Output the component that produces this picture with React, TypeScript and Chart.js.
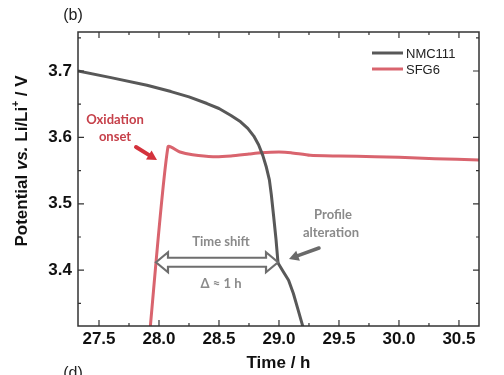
import React, { useEffect, useRef } from 'react';
import { Chart, registerables } from 'chart.js';
Chart.register(...registerables);

const nmcTime = [27.325, 27.6, 27.9, 28.1, 28.25, 28.4, 28.5, 28.6, 28.68, 28.74, 28.79, 28.83, 28.865, 28.895, 28.92, 28.936, 28.955, 28.975, 28.992, 29.04, 29.08, 29.12, 29.16, 29.215];
const nmcPotential = [3.7, 3.69, 3.6785, 3.669, 3.661, 3.651, 3.6435, 3.633, 3.6235, 3.6135, 3.602, 3.589, 3.573, 3.555, 3.536, 3.514, 3.482, 3.447, 3.411, 3.3966, 3.385, 3.365, 3.34, 3.305];
const sfgTime = [27.92, 28.075, 28.175, 28.28, 28.45, 28.6, 28.75, 28.85, 29.0, 29.1, 29.26, 29.5, 29.8, 30.0, 30.3, 30.667];
const sfgPotential = [3.3, 3.586, 3.578, 3.574, 3.571, 3.572, 3.575, 3.577, 3.578, 3.577, 3.573, 3.572, 3.571, 3.57, 3.568, 3.566];

const seriesNames = ['NMC111', 'SFG6'];
const seriesColors = ['#585858', '#d9646e'];

const xMajorTicks = [27.5, 28.0, 28.5, 29.0, 29.5, 30.0, 30.5];
const xMinorTicks = [27.75, 28.25, 28.75, 29.25, 29.75, 30.25];
const yMajorTicks = [3.4, 3.5, 3.6, 3.7];
const yMinorTicks = [3.35, 3.45, 3.55, 3.65, 3.75];

const X_MIN = 27.325, X_MAX = 30.667, Y_MIN = 3.316, Y_MAX = 3.7587;

function arrow(ctx: CanvasRenderingContext2D, x1: number, y1: number, x2: number, y2: number, color: string, lw: number, head: number) {
  const ang = Math.atan2(y2 - y1, x2 - x1);
  ctx.save();
  ctx.strokeStyle = color; ctx.fillStyle = color; ctx.lineWidth = lw; ctx.lineCap = 'round';
  const bx = x2 - Math.cos(ang) * head * 0.8, by = y2 - Math.sin(ang) * head * 0.8;
  ctx.beginPath(); ctx.moveTo(x1, y1); ctx.lineTo(bx, by); ctx.stroke();
  ctx.beginPath();
  ctx.moveTo(x2, y2);
  ctx.lineTo(x2 - Math.cos(ang - 0.5) * head, y2 - Math.sin(ang - 0.5) * head);
  ctx.lineTo(x2 - Math.cos(ang + 0.5) * head, y2 - Math.sin(ang + 0.5) * head);
  ctx.closePath(); ctx.fill();
  ctx.restore();
}

const decorPlugin = {
  id: 'decor',
  afterDatasetsDraw(chart: any) {
    const { ctx, chartArea: a, scales } = chart;
    const x = scales.x, y = scales.y;
    ctx.save();
    // frame
    ctx.strokeStyle = '#333'; ctx.lineWidth = 1.5;
    ctx.strokeRect(a.left, a.top, a.right - a.left, a.bottom - a.top);
    ctx.lineWidth = 1.2;
    const tick = (px: number, len: number, horiz: boolean) => {
      ctx.beginPath();
      if (horiz) {
        ctx.moveTo(px, a.bottom); ctx.lineTo(px, a.bottom - len);
        ctx.moveTo(px, a.top); ctx.lineTo(px, a.top + len);
      } else {
        ctx.moveTo(a.left, px); ctx.lineTo(a.left + len, px);
        ctx.moveTo(a.right, px); ctx.lineTo(a.right - len, px);
      }
      ctx.stroke();
    };
    xMajorTicks.forEach(v => tick(x.getPixelForValue(v), 6, true));
    xMinorTicks.forEach(v => tick(x.getPixelForValue(v), 3, true));
    yMajorTicks.forEach(v => tick(y.getPixelForValue(v), 6, false));
    yMinorTicks.forEach(v => tick(y.getPixelForValue(v), 3, false));

    // legend
    ctx.font = '13px "Liberation Sans", Arial, sans-serif';
    ctx.textBaseline = 'middle';
    chart.data.datasets.forEach((ds: any, i: number) => {
      const ly = 53 + i * 16;
      ctx.strokeStyle = ds.borderColor; ctx.lineWidth = 3;
      ctx.beginPath(); ctx.moveTo(372, ly); ctx.lineTo(403, ly); ctx.stroke();
      ctx.fillStyle = '#222'; ctx.textAlign = 'left';
      ctx.fillText(ds.label, 406, ly + 1);
    });

    // annotations
    ctx.font = 'bold 13px Lato, "Open Sans", sans-serif';
    ctx.textAlign = 'center';
    ctx.fillStyle = '#c6404a';
    ctx.fillText('Oxidation', 115, 120);
    ctx.fillText('onset', 115, 137);
    arrow(ctx, 136, 147, 157, 160, '#d4323c', 4, 11);

    ctx.fillStyle = '#8a8a8a';
    ctx.fillText('Time shift', 221, 242);
    ctx.fillText('Δ ≈ 1 h', 221, 284);
    ctx.fillText('Profile', 333, 215);
    ctx.fillText('alteration', 331, 233);
    arrow(ctx, 319, 248, 289, 259, '#6a6a6a', 3.5, 11);

    // double hollow arrow
    const lx = x.getPixelForValue(27.975), rx = x.getPixelForValue(28.992), cy = y.getPixelForValue(3.412);
    const hl = 12, hh = 10, sh = 4.5;
    ctx.beginPath();
    ctx.moveTo(lx, cy);
    ctx.lineTo(lx + hl, cy - hh); ctx.lineTo(lx + hl, cy - sh);
    ctx.lineTo(rx - hl, cy - sh); ctx.lineTo(rx - hl, cy - hh);
    ctx.lineTo(rx, cy);
    ctx.lineTo(rx - hl, cy + hh); ctx.lineTo(rx - hl, cy + sh);
    ctx.lineTo(lx + hl, cy + sh); ctx.lineTo(lx + hl, cy + hh);
    ctx.closePath();
    ctx.fillStyle = '#ffffff'; ctx.fill();
    ctx.strokeStyle = '#6e6e6e'; ctx.lineWidth = 2.2; ctx.lineJoin = 'miter'; ctx.stroke();

    ctx.restore();
  },
  afterDraw(chart: any) {
    const { ctx } = chart;
    ctx.save();
    // panel labels
    ctx.fillStyle = '#222';
    ctx.font = '16px "Liberation Sans", Arial, sans-serif';
    ctx.textAlign = 'center'; ctx.textBaseline = 'middle';
    ctx.fillText('(b)', 73, 16);
    ctx.textBaseline = 'top';
    ctx.fillText('(d)', 73, 366);
    // y title with italic "vs."
    const parts: [string, string, number][] = [
      ['Potential ', 'bold 17px "Liberation Sans", Arial, sans-serif', 0],
      ['vs.', 'italic bold 17px "Liberation Sans", Arial, sans-serif', 0],
      [' Li/Li', 'bold 17px "Liberation Sans", Arial, sans-serif', 0],
      ['+', 'bold 10px "Liberation Sans", Arial, sans-serif', -6],
      [' / V', 'bold 17px "Liberation Sans", Arial, sans-serif', 0],
    ];
    let total = 0;
    parts.forEach(p => { ctx.font = p[1]; total += ctx.measureText(p[0]).width; });
    ctx.translate(22, 161);
    ctx.rotate(-Math.PI / 2);
    ctx.textAlign = 'left'; ctx.textBaseline = 'middle';
    ctx.fillStyle = '#111';
    let cx = -total / 2;
    parts.forEach(p => { ctx.font = p[1]; ctx.fillText(p[0], cx, p[2]); cx += ctx.measureText(p[0]).width; });
    ctx.restore();
  },
};

export default function App() {
  const ref = useRef<HTMLCanvasElement>(null);
  useEffect(() => {
    const canvas = ref.current!;
    const chart = new Chart(canvas, {
      type: 'line',
      data: {
        datasets: [
          {
            label: seriesNames[0],
            data: nmcTime.map((t, i) => ({ x: t, y: nmcPotential[i] })),
            borderColor: seriesColors[0], borderWidth: 3, pointRadius: 0,
            tension: 0, borderJoinStyle: 'round', fill: false,
          },
          {
            label: seriesNames[1],
            data: sfgTime.map((t, i) => ({ x: t, y: sfgPotential[i] })),
            borderColor: seriesColors[1], borderWidth: 3, pointRadius: 0,
            tension: 0.2, fill: false,
          },
        ],
      },
      options: {
        animation: false,
        responsive: false,
        devicePixelRatio: 1,
        layout: { padding: { left: 0, right: 25, top: 32, bottom: 0 } },
        plugins: { legend: { display: false }, tooltip: { enabled: false } },
        scales: {
          x: {
            type: 'linear', min: X_MIN, max: X_MAX, position: 'bottom',
            afterBuildTicks: (s: any) => { s.ticks = xMajorTicks.map(v => ({ value: v })); },
            afterFit: (s: any) => { s.height = 49; },
            grid: { display: false, drawTicks: false },
            border: { display: false },
            ticks: {
              autoSkip: false, maxRotation: 0, padding: 3, color: '#111',
              font: { family: '"Liberation Sans", Arial, sans-serif', size: 17, weight: 'bold' },
              callback: (v: any) => Number(v).toFixed(1),
            },
            title: {
              display: true, text: 'Time / h', color: '#111', padding: { top: 0, bottom: 1 },
              font: { family: '"Liberation Sans", Arial, sans-serif', size: 17, weight: 'bold' },
            },
          },
          y: {
            type: 'linear', min: Y_MIN, max: Y_MAX,
            afterBuildTicks: (s: any) => { s.ticks = yMajorTicks.map(v => ({ value: v })); },
            afterFit: (s: any) => { s.width = 78; },
            grid: { display: false, drawTicks: false },
            border: { display: false },
            ticks: {
              padding: 6, color: '#111',
              font: { family: '"Liberation Sans", Arial, sans-serif', size: 17, weight: 'bold' },
              callback: (v: any) => Number(v).toFixed(1),
            },
          },
        },
      } as any,
      plugins: [decorPlugin],
    });
    return () => chart.destroy();
  }, []);
  return (
    <div style={{ position: 'fixed', left: 0, top: 0, width: 504, height: 375, background: '#fff' }}>
      <canvas ref={ref} width={504} height={375} style={{ display: 'block' }} />
    </div>
  );
}
